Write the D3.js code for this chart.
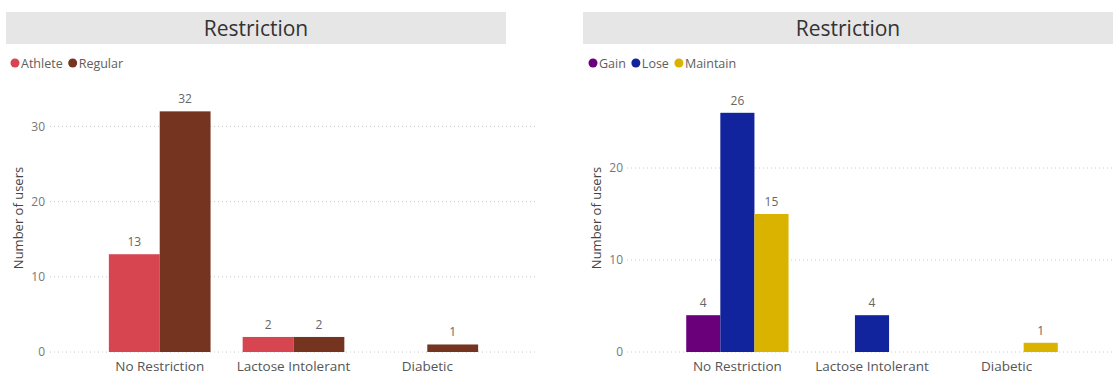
<!DOCTYPE html>
<html>
<head>
<meta charset="utf-8">
<script src="https://cdn.jsdelivr.net/npm/d3@7"></script>
<style>
  body { margin: 0; background: #fff; }
  svg { display: block; font-family: "Open Sans", "Noto Sans", sans-serif; }
</style>
</head>
<body>
<svg id="chart" width="1113" height="376"></svg>
<script>
// categories shared by both charts
var categories = ["No Restriction", "Lactose Intolerant", "Diabetic"];

// left chart: user type
var typeSeries = ["Athlete", "Regular"];
var typeColors = ["#D64550", "#743420"];
var athleteValues = [13, 2, 0];
var regularValues = [32, 2, 1];
var leftTicks = [0, 10, 20, 30];

// right chart: goal
var goalSeries = ["Gain", "Lose", "Maintain"];
var goalColors = ["#6B007B", "#12239E", "#D9B300"];
var gainValues = [4, 0, 0];
var loseValues = [26, 4, 0];
var maintainValues = [15, 0, 1];
var rightTicks = [0, 10, 20];

var svg = d3.select("#chart");

function drawChart(opt){
  var g = svg.append("g");

  //title bar
  g.append("rect")
    .attr("x", opt.titleX0).attr("y", 12)
    .attr("width", opt.titleX1 - opt.titleX0).attr("height", 32)
    .attr("fill", "#e6e6e6");
  g.append("text")
    .attr("x", (opt.titleX0 + opt.titleX1) / 2).attr("y", 36)
    .attr("text-anchor", "middle")
    .attr("font-size", 21)
    .attr("fill", "#333")
    .text("Restriction");

  //legend
  var lx = opt.legendX;
  opt.series.forEach(function(s, i){
    g.append("circle")
      .attr("cx", lx + 4).attr("cy", 63).attr("r", 4.5)
      .attr("fill", opt.colors[i]);
    var t = g.append("text")
      .attr("x", lx + 10).attr("y", 67.5)
      .attr("font-size", 12.5)
      .attr("fill", "#605e5c")
      .text(s);
    lx += 10 + t.node().getComputedTextLength() + 6;
  });

  var y = d3.scaleLinear()
    .domain([0, opt.yMax])
    .range([352, 352 - opt.yMax * opt.pxPerUnit]);

  var x0 = d3.scaleBand()
    .domain(categories)
    .range([opt.plotX0, opt.plotX1])
    .paddingInner(0.24)
    .paddingOuter(0.44);

  var x1 = d3.scaleBand()
    .domain(opt.series)
    .range([0, x0.bandwidth()]);

  //gridlines
  g.selectAll(".grid")
    .data(opt.ticks)
    .enter()
    .append("line")
      .attr("x1", opt.gridX0).attr("x2", opt.gridX1)
      .attr("y1", function(d){ return y(d); })
      .attr("y2", function(d){ return y(d); })
      .attr("stroke", "#c8c8c8")
      .attr("stroke-width", 1)
      .attr("stroke-dasharray", "1,3");

  //y axis labels
  var yAxis = d3.axisLeft(y).tickValues(opt.ticks).tickSize(0).tickPadding(0);
  var ya = g.append("g")
    .attr("transform", "translate(" + opt.tickRight + ",0)")
    .call(yAxis);
  ya.select(".domain").remove();
  ya.selectAll("text")
    .attr("font-family", "Open Sans, Noto Sans, sans-serif")
    .attr("font-size", 12)
    .attr("fill", "#777");

  g.append("text")
    .attr("transform", "translate(" + opt.yTitleX + ",218) rotate(-90)")
    .attr("text-anchor", "middle")
    .attr("font-size", 13)
    .attr("fill", "#444")
    .text("Number of users");

  //x axis labels
  var xAxis = d3.axisBottom(x0).tickSize(0).tickPadding(0);
  var xa = g.append("g")
    .attr("transform", "translate(0,361)")
    .call(xAxis);
  xa.select(".domain").remove();
  xa.selectAll("text")
    .attr("font-family", "Open Sans, Noto Sans, sans-serif")
    .attr("font-size", 13.5)
    .attr("fill", "#555")
    .attr("dy", "0.71em");

  //bars
  var rows = [];
  categories.forEach(function(c, ci){
    opt.series.forEach(function(s, si){
      var v = opt.values[si][ci];
      if(v > 0){
        rows.push({cat: c, series: s, value: v, color: opt.colors[si]});
      }
    });
  });

  g.selectAll(".bar")
    .data(rows)
    .enter()
    .append("rect")
      .attr("x", function(d){ return x0(d.cat) + x1(d.series); })
      .attr("y", function(d){ return y(d.value); })
      .attr("width", x1.bandwidth())
      .attr("height", function(d){ return y(0) - y(d.value); })
      .attr("fill", function(d){ return d.color; });

  g.selectAll(".lbl")
    .data(rows)
    .enter()
    .append("text")
      .attr("x", function(d){ return x0(d.cat) + x1(d.series) + x1.bandwidth() / 2; })
      .attr("y", function(d){ return y(d.value) - 8; })
      .attr("text-anchor", "middle")
      .attr("font-size", 12)
      .attr("fill", "#666")
      .text(function(d){ return d.value; });
}

drawChart({
  series: typeSeries, colors: typeColors,
  values: [athleteValues, regularValues],
  ticks: leftTicks, yMax: 35, pxPerUnit: 7.52,
  titleX0: 6, titleX1: 506, legendX: 11,
  plotX0: 50, plotX1: 537, gridX0: 50, gridX1: 538,
  tickRight: 45, yTitleX: 23
});

drawChart({
  series: goalSeries, colors: goalColors,
  values: [gainValues, loseValues, maintainValues],
  ticks: rightTicks, yMax: 28, pxPerUnit: 9.2,
  titleX0: 583, titleX1: 1113, legendX: 589,
  plotX0: 627, plotX1: 1117, gridX0: 627, gridX1: 1113,
  tickRight: 623, yTitleX: 601
});
</script>
</body>
</html>
